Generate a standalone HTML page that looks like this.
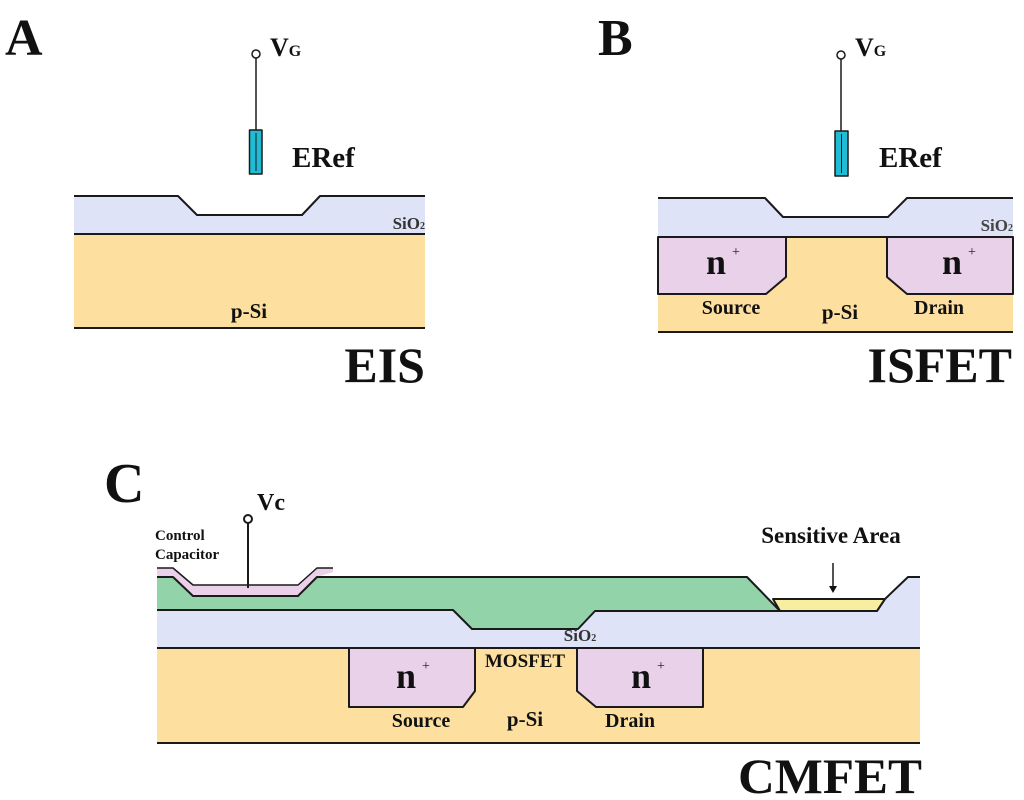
<!DOCTYPE html>
<html><head><meta charset="utf-8"><style>html,body{margin:0;padding:0;background:#fff}svg{display:block}</style></head>
<body>
<svg width="1024" height="800" viewBox="0 0 1024 800" xmlns="http://www.w3.org/2000/svg" font-family="Liberation Serif, serif" font-weight="bold">
<g stroke="#1a1a1a" stroke-width="2" stroke-linejoin="round">
<!-- A -->
<rect x="74" y="234" width="351" height="94" fill="#fde0a0" stroke="none"/>
<polygon points="74,196 178,196 197,215 302,215 320,196 425,196 425,234 74,234" fill="#dfe3f8" stroke="none"/>
<polyline points="74,196 178,196 197,215 302,215 320,196 425,196" fill="none"/>
<line x1="74" y1="234" x2="425" y2="234"/>
<line x1="74" y1="328" x2="425" y2="328"/>
<line x1="256" y1="58" x2="256" y2="130" stroke-width="1.5"/>
<circle cx="256" cy="54" r="4" fill="#fff" stroke-width="1.5"/>
<rect x="249.5" y="130" width="12.5" height="44" fill="#20bcd6" stroke-width="1.5"/>
<line x1="256" y1="133" x2="256" y2="171" stroke-width="1"/>
<!-- B -->
<rect x="658" y="237" width="355" height="95" fill="#fde0a0" stroke="none"/>
<polygon points="658,198 765,198 783,217 888,217 907,198 1013,198 1013,237 658,237" fill="#dfe3f8" stroke="none"/>
<polyline points="658,198 765,198 783,217 888,217 907,198 1013,198" fill="none"/>
<line x1="658" y1="237" x2="1013" y2="237"/>
<polygon points="658,237 786,237 786,277 766,294 658,294" fill="#e9d2e9"/>
<polygon points="887,237 1013,237 1013,294 907,294 887,277" fill="#e9d2e9"/>
<line x1="658" y1="332" x2="1013" y2="332"/>
<line x1="841" y1="59" x2="841" y2="131" stroke-width="1.5"/>
<circle cx="841" cy="55" r="4" fill="#fff" stroke-width="1.5"/>
<rect x="835" y="131" width="13" height="45" fill="#20bcd6" stroke-width="1.5"/>
<line x1="841.5" y1="134" x2="841.5" y2="173" stroke-width="1"/>
<!-- C -->
<rect x="157" y="648" width="763" height="95" fill="#fde0a0" stroke="none"/>
<polygon points="157,610 453,610 472,629 578,629 595,611 920,611 920,648 157,648" fill="#dfe3f8" stroke="none"/>
<polygon points="885,599 908,577 920,577 920,611 877,611" fill="#dfe3f8" stroke="none"/>
<polygon points="157,576 173,576 195,588 300,588 317,577 747,577 780,611 595,611 578,629 472,629 453,610 157,610" fill="#92d3a9" stroke="none"/>
<polygon points="157,568 173,568 193,585 298,585 317,568 333,568 333,572 317,577 300,596 193,596 173,576 157,576" fill="#ead0e8" stroke="none"/>
<polygon points="773,599 885,599 877,611 780,611" fill="#f8eea2"/>
<polyline points="157,568 173,568 193,585 298,585 317,568 333,568" fill="none" stroke-width="1.5"/>
<polyline points="157,577 173,577 193,596 298,596 317,577 747,577 780,611" fill="none"/>
<polyline points="157,610 453,610 472,629 578,629 595,611 877,611 885,599 908,577 920,577" fill="none"/>
<line x1="157" y1="648" x2="920" y2="648"/>
<line x1="157" y1="743" x2="920" y2="743"/>
<polygon points="349,648 475,648 475,691 463,707 349,707" fill="#e9d2e9"/>
<polygon points="577,648 703,648 703,707 596,707 577,691" fill="#e9d2e9"/>
<line x1="248" y1="523" x2="248" y2="588"/>
<circle cx="248" cy="519" r="4" fill="#fff"/>
<line x1="833" y1="563" x2="833" y2="588" stroke-width="1.5"/>
</g>
<polygon points="829,586 837,586 833,593" fill="#111"/>
<g fill="#111">
<text x="5" y="55" font-size="52">A</text>
<text x="598" y="55" font-size="52">B</text>
<text x="104" y="502" font-size="56">C</text>
<text x="270" y="56" font-size="26">V<tspan font-size="16">G</tspan></text>
<text x="855" y="56" font-size="26">V<tspan font-size="16">G</tspan></text>
<text x="292" y="167" font-size="29">ERef</text>
<text x="879" y="167" font-size="29">ERef</text>
<text x="425" y="229" font-size="17" text-anchor="end" fill="#333">SiO<tspan font-size="10">2</tspan></text>
<text x="1013" y="231" font-size="17" text-anchor="end" fill="#444">SiO<tspan font-size="10">2</tspan></text>
<text x="580" y="641" font-size="17" text-anchor="middle" fill="#333">SiO<tspan font-size="10">2</tspan></text>
<text x="249" y="318" font-size="21" text-anchor="middle">p-Si</text>
<text x="840" y="319" font-size="21" text-anchor="middle">p-Si</text>
<text x="525" y="726" font-size="21" text-anchor="middle">p-Si</text>
<text x="731" y="314" font-size="20" text-anchor="middle">Source</text>
<text x="939" y="314" font-size="20" text-anchor="middle">Drain</text>
<text x="421" y="727" font-size="20" text-anchor="middle">Source</text>
<text x="630" y="727" font-size="20" text-anchor="middle">Drain</text>
<text x="525" y="667" font-size="19" text-anchor="middle">MOSFET</text>
<text x="706" y="274" font-size="36">n</text><text x="732" y="256" font-size="14" font-weight="normal">+</text>
<text x="942" y="274" font-size="36">n</text><text x="968" y="256" font-size="14" font-weight="normal">+</text>
<text x="396" y="688" font-size="36">n</text><text x="422" y="670" font-size="14" font-weight="normal">+</text>
<text x="631" y="688" font-size="36">n</text><text x="657" y="670" font-size="14" font-weight="normal">+</text>
<text x="257" y="510" font-size="24">Vc</text>
<text x="155" y="540" font-size="15">Control</text>
<text x="155" y="559" font-size="15">Capacitor</text>
<text x="831" y="543" font-size="23" text-anchor="middle">Sensitive Area</text>
<text x="425" y="382" font-size="50" text-anchor="end">EIS</text>
<text x="1012" y="382" font-size="50" text-anchor="end">ISFET</text>
<text x="738" y="793" font-size="50" textLength="184" lengthAdjust="spacingAndGlyphs">CMFET</text>
</g>
</svg>
</body></html>
